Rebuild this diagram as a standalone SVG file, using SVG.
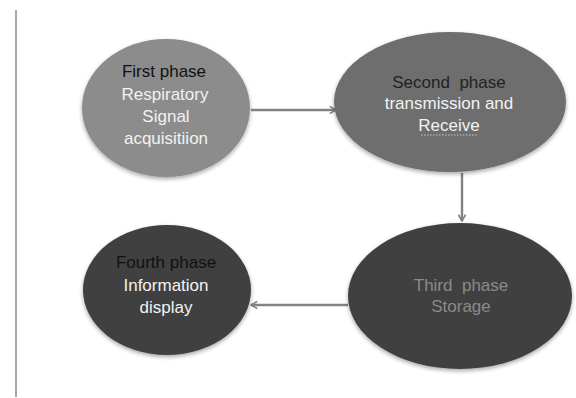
<svg xmlns="http://www.w3.org/2000/svg" width="576" height="398" viewBox="0 0 576 398">
<defs>
<filter id="sh" x="-10%" y="-10%" width="125%" height="130%">
<feGaussianBlur in="SourceAlpha" stdDeviation="2"/>
<feOffset dx="0" dy="2" result="b"/>
<feComponentTransfer><feFuncA type="linear" slope="0.35"/></feComponentTransfer>
<feMerge><feMergeNode/><feMergeNode in="SourceGraphic"/></feMerge>
</filter>
<marker id="arr" viewBox="0 0 10 10" refX="9" refY="5" markerWidth="9" markerHeight="9" orient="auto" markerUnits="userSpaceOnUse">
<path d="M2,1 L9,5 L2,9" fill="none" stroke="#808080" stroke-width="1.8"/>
</marker>
</defs>
<style>
text{font-family:"Liberation Sans",Arial,sans-serif;font-size:17px;text-anchor:middle}
.conn{stroke:#828282;stroke-width:2.4;fill:none}
</style>
<rect width="576" height="398" fill="#ffffff"/>
<line x1="16" y1="10" x2="16" y2="397" stroke="#a8a8a8" stroke-width="2"/>
<g id="connectors">
<line class="conn" x1="251" y1="110" x2="336" y2="110" marker-end="url(#arr)"/>
<line class="conn" x1="462" y1="173" x2="462" y2="221" marker-end="url(#arr)"/>
<line class="conn" x1="348" y1="305" x2="251" y2="305" marker-end="url(#arr)"/>
</g>
<g id="node1">
<ellipse cx="166" cy="108" rx="84" ry="69" fill="#8c8c8c" filter="url(#sh)"/>
<text x="164" y="77" fill="#111111">First phase</text>
<text x="165" y="100" fill="#f2f2f2">Respiratory</text>
<text x="166" y="122" fill="#f2f2f2">Signal</text>
<text x="166" y="144" fill="#f2f2f2">acquisitiion</text>
</g>
<g id="node2">
<ellipse cx="450" cy="102" rx="116" ry="70" fill="#6e6e6e" filter="url(#sh)"/>
<text x="449" y="88" fill="#222222" xml:space="preserve">Second  phase</text>
<text x="449" y="109" fill="#f2f2f2">transmission and</text>
<text x="449" y="131" fill="#f2f2f2">Receive</text>
<line x1="421" y1="135" x2="478" y2="135" stroke="#c8c8c8" stroke-width="1" stroke-dasharray="1.5,1.5"/>
</g>
<g id="node3">
<ellipse cx="460" cy="296" rx="112" ry="73" fill="#404040" filter="url(#sh)"/>
<text x="461" y="291" fill="#8a8a8a" xml:space="preserve">Third  phase</text>
<text x="461" y="312" fill="#8a8a8a">Storage</text>
</g>
<g id="node4">
<ellipse cx="167" cy="290" rx="84" ry="65" fill="#404040" filter="url(#sh)"/>
<text x="166" y="268" fill="#111111">Fourth phase</text>
<text x="166" y="291" fill="#f2f2f2">Information</text>
<text x="166" y="313" fill="#f2f2f2">display</text>
</g>
</svg>
